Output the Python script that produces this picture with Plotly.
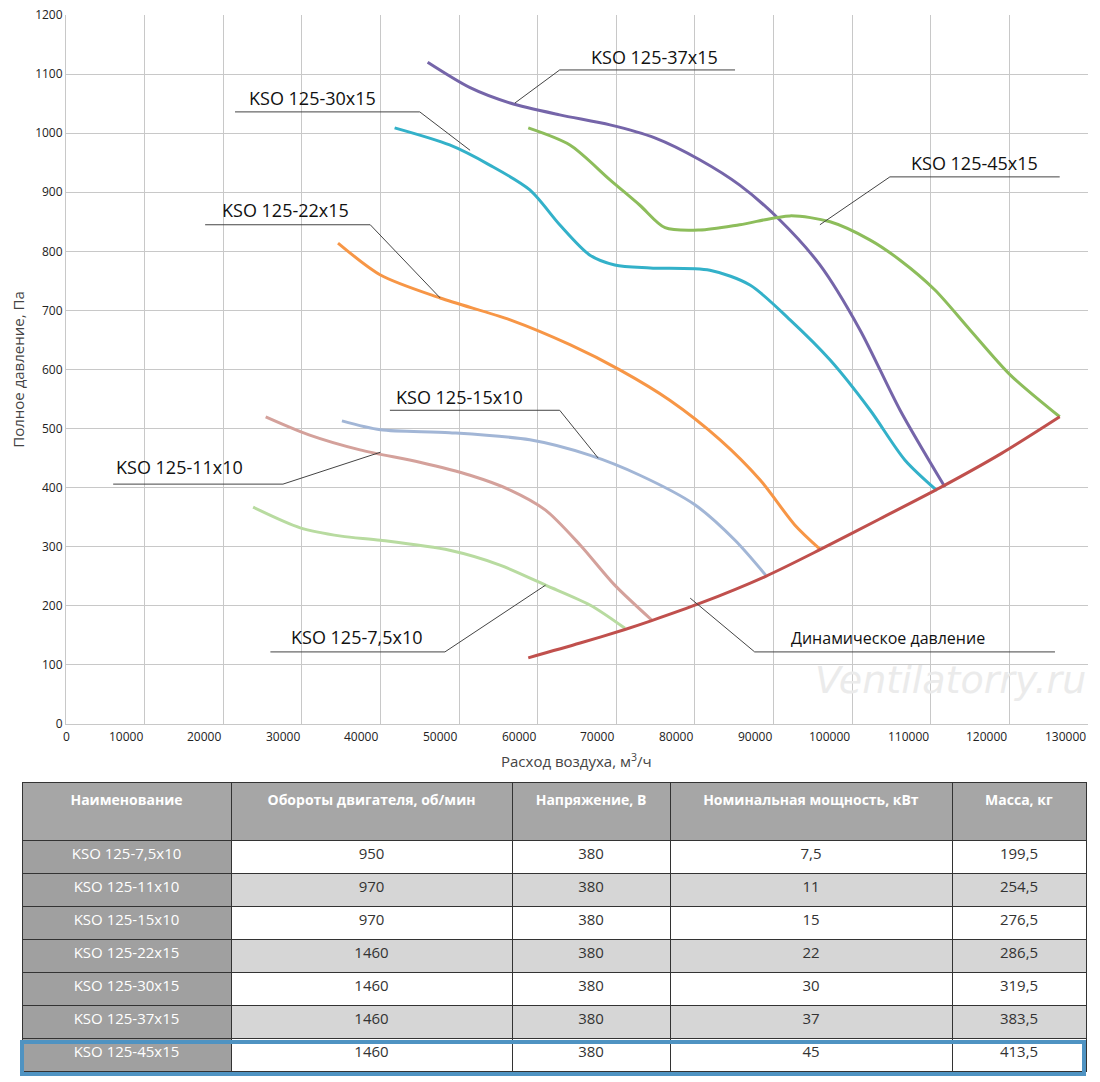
import plotly.graph_objects as go

FONT = "Open Sans"
OFF = 8  # page body margin in px

# ---- curve data (airflow m3/h, pressure Pa) ----
x_75 = [23800, 29800, 35000, 40000, 48800, 55200, 61000, 66700, 71100]
y_75 = [367, 332, 318, 311, 294, 269, 235, 201, 162]
x_11 = [25400, 31000, 37400, 45000, 51400, 56500, 61000, 65400, 69800, 74500]
y_11 = [520, 489, 464, 443, 421, 396, 362, 303, 235, 176]
x_15 = [35100, 40000, 48800, 59000, 66600, 73000, 80000, 85100, 89000]
y_15 = [513, 498, 493, 481, 455, 421, 371, 311, 252]
x_22 = [34600, 40000, 47600, 56500, 64100, 70500, 76800, 83200, 88300, 92700, 95900]
y_22 = [814, 760, 721, 684, 642, 599, 548, 481, 413, 337, 296]
x_30 = [41800, 48800, 53900, 59000, 62800, 66600, 69800, 74300, 81900, 87000, 92100, 97200, 102300, 106700, 110800]
y_30 = [1009, 980, 946, 904, 845, 794, 777, 772, 768, 743, 684, 616, 531, 447, 395]
x_37 = [46000, 51400, 56500, 62800, 69200, 74900, 80600, 85700, 90800, 95900, 101000, 106100, 111800]
y_37 = [1120, 1077, 1051, 1031, 1014, 992, 955, 912, 853, 777, 667, 531, 401]
x_45 = [58800, 64100, 69200, 73000, 76200, 80600, 85700, 92100, 97200, 102300, 106100, 110500, 115000, 120100, 126400]
y_45 = [1009, 980, 921, 878, 840, 836, 845, 860, 850, 819, 785, 735, 667, 591, 520]
x_dyn = [58800, 65400, 71100, 74500, 80600, 89000, 95900, 103500, 111200, 119000, 126400]
y_dyn = [112, 137, 160, 175, 204, 250, 295, 347, 400, 458, 520]

x_ticks = list(range(0, 130001, 10000))
x_tick_labels = [str(v) for v in x_ticks]

series = [
    ("KSO 125-7,5x10", x_75, y_75, "#b8dba0"),
    ("KSO 125-11x10", x_11, y_11, "#d4a19b"),
    ("KSO 125-15x10", x_15, y_15, "#a2b6d6"),
    ("KSO 125-22x15", x_22, y_22, "#f79646"),
    ("KSO 125-30x15", x_30, y_30, "#33b1c9"),
    ("KSO 125-37x15", x_37, y_37, "#7565a9"),
    ("KSO 125-45x15", x_45, y_45, "#8dbd5b"),
    ("Динамическое давление", x_dyn, y_dyn, "#c0504d"),
]

# label text pos, underline (x0,x1,y), leader end point, leader start x
labels = [
    ("KSO 125-37x15", 74900, 1129, 62800, 85100, 1107, 57100, 1051, 62800),
    ("KSO 125-30x15", 31400, 1060, 21500, 45000, 1036, 51400, 971, 45000),
    ("KSO 125-22x15", 27900, 870, 17700, 38700, 845, 47600, 721, 38700),
    ("KSO 125-45x15", 115600, 950, 104800, 126400, 926, 95900, 845, 104800),
    ("KSO 125-15x10", 50100, 553, 41200, 62800, 531, 67700, 450, 62800),
    ("KSO 125-11x10", 14500, 435, 6000, 27600, 406, 40000, 460, 27600),
    ("KSO 125-7,5x10", 36900, 147, 26000, 48200, 122, 61000, 235, 48200),
    ("Динамическое давление", 104500, 145, 87600, 125800, 122, 79400, 213, 87600),
]

# ---- table data ----
hdr = ["Наименование", "Обороты двигателя, об/мин", "Напряжение, В", "Номинальная мощность, кВт", "Масса, кг"]
names = ["KSO 125-7,5x10", "KSO 125-11x10", "KSO 125-15x10", "KSO 125-22x15", "KSO 125-30x15", "KSO 125-37x15", "KSO 125-45x15"]
rpm = ["950", "970", "970", "1460", "1460", "1460", "1460"]
volt = ["380"] * 7
power = ["7,5", "11", "15", "22", "30", "37", "45"]
mass = ["199,5", "254,5", "276,5", "286,5", "319,5", "383,5", "413,5"]

W, H = 1100, 1082
def px(v): return (v - OFF) / W
def py(v): return 1 - (v - OFF) / H

fig = go.Figure()
for name, xs, ys, c in series:
    fig.add_trace(go.Scatter(x=xs, y=ys, mode="lines",
                             line=dict(color=c, width=3, shape="spline", smoothing=0.8),
                             name=name, showlegend=False, xaxis="x", yaxis="y"))

for t, tx, ty, ux0, ux1, uy, lx, ly, sx in labels:
    fig.add_shape(type="line", x0=ux0, x1=ux1, y0=uy, y1=uy, xref="x", yref="y",
                  line=dict(color="#444", width=1))
    fig.add_shape(type="line", x0=sx, x1=lx, y0=uy, y1=ly, xref="x", yref="y",
                  line=dict(color="#444", width=1))
    fig.add_annotation(x=tx, y=ty, xref="x", yref="y", text=t, showarrow=False,
                       font=dict(family=FONT, size=18 if "KSO" in t else 16, color="#111"))

# x tick labels, right-aligned to grid lines
for v, s in zip(x_ticks, x_tick_labels):
    fig.add_annotation(x=v, y=0, xref="x", yref="y", text=s, showarrow=False,
                       xanchor="center" if v == 0 else "right", yanchor="top", yshift=-2,
                       font=dict(family=FONT, size=12, color="#222"))

fig.add_annotation(x=(66 + 1088) / 2 / 1100 - OFF / W, y=py(748), xref="paper", yref="paper",
                   text="Расход воздуха, м<sup>3</sup>/ч", showarrow=False, yanchor="top",
                   font=dict(family=FONT, size=15, color="#444"))

fig.add_annotation(x=px(1088), y=py(680), xref="paper", yref="paper", xanchor="right",
                   text="<i>Ventilatorry.ru</i>", showarrow=False,
                   font=dict(family="DejaVu Sans", size=38, color="#ebebeb"))

fig.add_trace(go.Table(
    domain=dict(x=[px(22), px(1086)], y=[py(1076), py(782)]),
    columnwidth=[209, 281, 158, 282, 134],
    header=dict(values=["<br><b>%s</b>" % h for h in hdr], fill_color="#a6a6a6", height=58,
                line=dict(color="#333", width=1),
                font=dict(family=FONT, size=14, color="white"), align="center"),
    cells=dict(values=[names, rpm, volt, power, mass], height=33,
               fill_color=[["#a0a0a0"] * 7] + [["white" if i % 2 == 0 else "#d6d6d6" for i in range(7)]] * 4,
               line=dict(color="#333", width=1),
               font=dict(family=FONT, size=15, color=["white", "#333", "#333", "#333", "#333"]),
               align="center"),
))

fig.add_shape(type="rect", xref="paper", yref="paper", x0=px(22), x1=px(1084),
              y0=py(1074), y1=py(1042), line=dict(color="#4f93c2", width=4))

fig.update_layout(
    width=W, height=H, margin=dict(l=0, r=0, t=0, b=0),
    paper_bgcolor="white", plot_bgcolor="white",
    font=dict(family=FONT, color="#222"),
    xaxis=dict(domain=[px(66), px(1088)], range=[0, 130000], tickvals=x_ticks, showticklabels=False,
               showgrid=True, gridcolor="#c8c8c8", zeroline=False, showline=True, linecolor="#c8c8c8",
               ticks="", automargin=False),
    yaxis=dict(domain=[py(724), py(15)], range=[0, 1200], dtick=100,
               showgrid=True, gridcolor="#c8c8c8", zeroline=False, showline=True, linecolor="#c8c8c8",
               ticks="", tickfont=dict(size=12), automargin=False, ticklabeloverflow="allow",
               title=dict(text="Полное давление, Па", font=dict(size=15, color="#444"), standoff=6)),
)

fig.write_html("out.html")
